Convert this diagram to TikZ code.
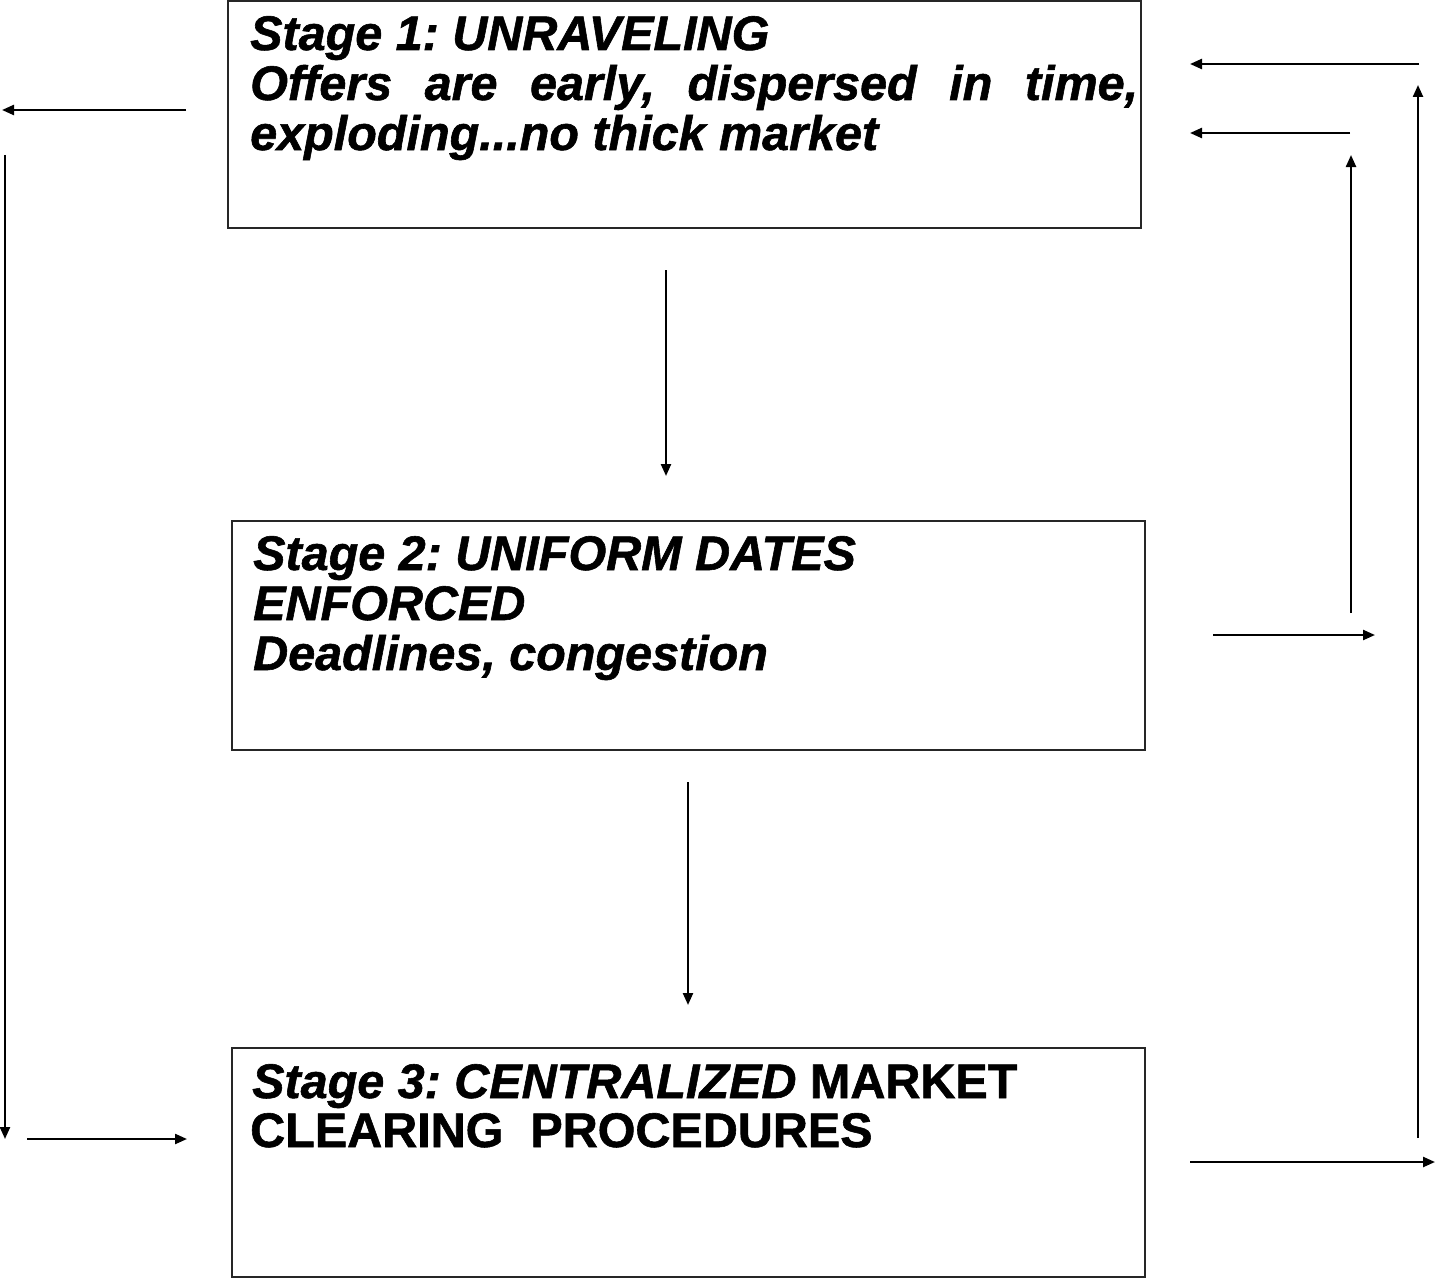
\documentclass[tikz,border=0pt]{standalone}
\usepackage{fontspec}
\setmainfont{Liberation Sans}[
  BoldFeatures={FakeBold=1.2},
  BoldItalicFeatures={FakeBold=1.2}]
\usetikzlibrary{arrows.meta}
\frenchspacing
\begin{document}
\begin{tikzpicture}[x=1pt,y=-1pt,
  stagebox/.style={draw=black!85, line width=2pt},
  txt/.style={anchor=base west, inner sep=0pt, font=\fontsize{48.5}{50}\selectfont\bfseries\itshape},
  arr/.style={line width=2.3pt, -{Triangle[length=12pt,width=10pt]}}]
\useasboundingbox[fill=white] (0,0) rectangle (1435,1279);

% stage boxes
\draw[stagebox] (228,1) rectangle (1141,228);
\draw[stagebox] (232,521) rectangle (1145,750);
\draw[stagebox] (232,1048) rectangle (1145,1277);

% stage 1 text
\node[txt] (s1a) at (250,50) {Stage 1: UNRAVELING};
\node[txt] (s1b) at (250,100) {\makebox[888pt][s]{Offers are early, dispersed in time,}};
\node[txt] (s1c) at (250,150) {exploding...no thick market};

% stage 2 text
\node[txt] (s2a) at (253,570) {Stage 2: UNIFORM DATES};
\node[txt] (s2b) at (253,620) {ENFORCED};
\node[txt] (s2c) at (253,670) {Deadlines, congestion};

% stage 3 text
\node[txt] (s3a) at (252,1098) {Stage 3: CENTRALIZED\upshape{} MARKET};
\node[txt] (s3b) at (250,1147) {\upshape CLEARING\ \ PROCEDURES};

% arrow end points
\coordinate (l1s) at (186,110);  \coordinate (l1e) at (2,110);
\coordinate (l2s) at (5,155);    \coordinate (l2e) at (5,1139);
\coordinate (l3s) at (27,1139);  \coordinate (l3e) at (187,1139);
\coordinate (m1s) at (666,270);  \coordinate (m1e) at (666,476);
\coordinate (m2s) at (688,782);  \coordinate (m2e) at (688,1005);
\coordinate (r1s) at (1419,64);  \coordinate (r1e) at (1190,64);
\coordinate (r2s) at (1350,133); \coordinate (r2e) at (1190,133);
\coordinate (r3s) at (1351,613); \coordinate (r3e) at (1351,155);
\coordinate (r4s) at (1213,635); \coordinate (r4e) at (1375,635);
\coordinate (r5s) at (1418,1138);\coordinate (r5e) at (1418,85);
\coordinate (r6s) at (1190,1162);\coordinate (r6e) at (1435,1162);

% connectors
\foreach \a in {l1,l2,l3,m1,m2,r1,r2,r3,r4,r5,r6}
  \draw[arr] (\a s) -- (\a e);
\end{tikzpicture}
\end{document}
